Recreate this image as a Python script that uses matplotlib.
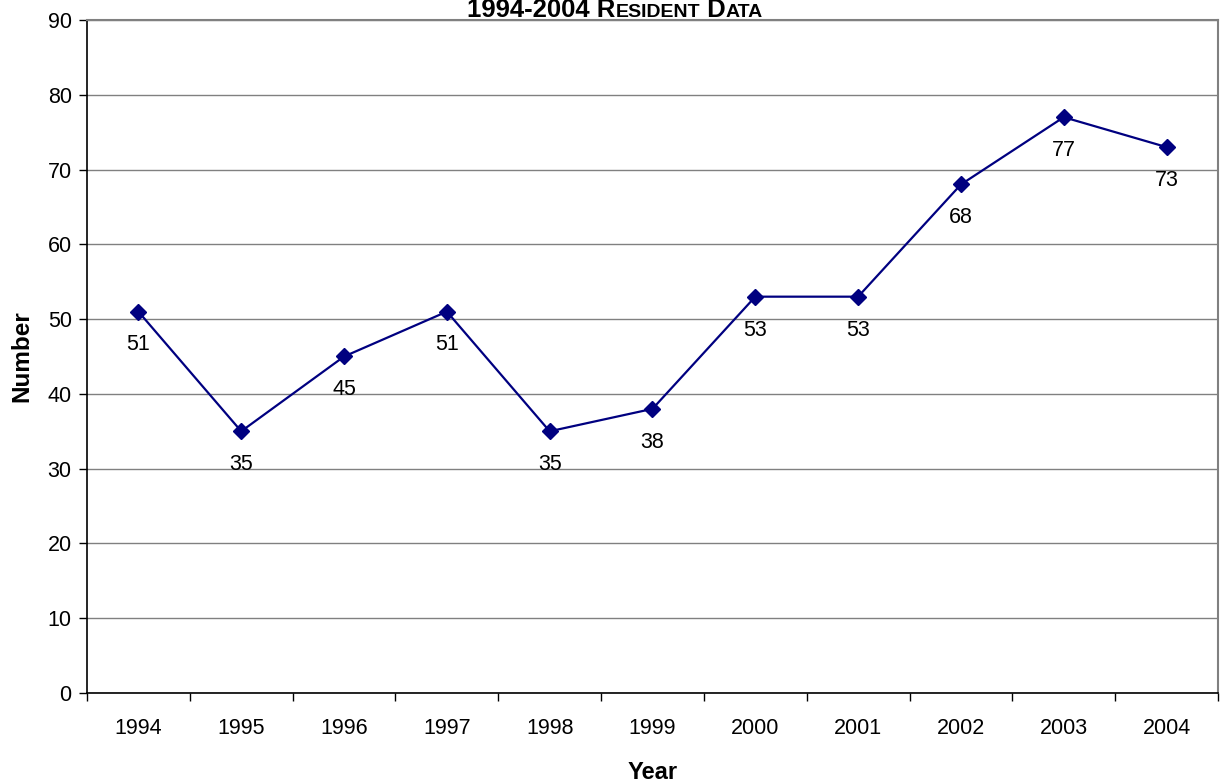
import numpy as np
import matplotlib.pyplot as plt
from matplotlib.ticker import FixedLocator

plt.rcParams["font.family"] = ["Liberation Sans", "DejaVu Sans"]

years = ["1994", "1995", "1996", "1997", "1998", "1999", "2000", "2001", "2002", "2003", "2004"]
residents = [51, 35, 45, 51, 35, 38, 53, 53, 68, 77, 73]

fig = plt.figure(figsize=(12.22, 7.83), dpi=100)
ax = fig.add_axes([0.0712, 0.1149, 0.9255, 0.8596])

x = np.arange(len(years))
ax.plot(x, residents, "-", color="#000080", linewidth=1.6,
        marker="D", markersize=8.5, markerfacecolor="#000080", markeredgecolor="#000080")

for xi, v in zip(x, residents):
    ax.annotate(str(v), (xi, v), xytext=(0, -24), textcoords="offset points",
                ha="center", va="center", fontsize=15.5)

ax.set_xlim(-0.5, len(years) - 0.5)
ax.set_ylim(0, 90)
ax.set_yticks(np.arange(0, 91, 10))
ax.set_xticks(x)
ax.set_xticklabels(years)
ax.xaxis.set_minor_locator(FixedLocator(np.arange(-0.5, len(years), 1.0)))
ax.tick_params(axis="x", which="major", length=0, pad=18, labelsize=15.5)
ax.tick_params(axis="x", which="minor", length=6, width=1, direction="out")
ax.tick_params(axis="y", length=6, width=1, direction="out", labelsize=15.5, pad=5)

ax.yaxis.grid(True, color="#808080", linewidth=1)
ax.set_axisbelow(True)
ax.spines["top"].set_color("#808080")
ax.spines["right"].set_color("#808080")
ax.spines["top"].set_linewidth(1.5)
ax.spines["right"].set_linewidth(1.5)
ax.spines["left"].set_linewidth(1.2)
ax.spines["bottom"].set_linewidth(1.2)

ax.set_xlabel("Year", fontsize=17, fontweight="bold", labelpad=16)
ax.set_ylabel("Number", fontsize=17.5, fontweight="bold", labelpad=10)

# small-caps style title built from pieces
pieces = [("1994-2004 R", 18.5), ("ESIDENT", 14), (" D", 18.5), ("ATA", 14)]
fig.canvas.draw()
renderer = fig.canvas.get_renderer()
texts = []
for s, fs in pieces:
    t = fig.text(0, 0.98, s, fontsize=fs, fontweight="bold", ha="left", va="baseline")
    texts.append(t)
widths = [t.get_window_extent(renderer).width for t in texts]
total = sum(widths)
start = 615 - total / 2
W = fig.bbox.width
for t, w in zip(texts, widths):
    t.set_x(start / W)
    t.set_y(1 - 17 / 783)
    start += w

fig.savefig("out.png", dpi=100)
